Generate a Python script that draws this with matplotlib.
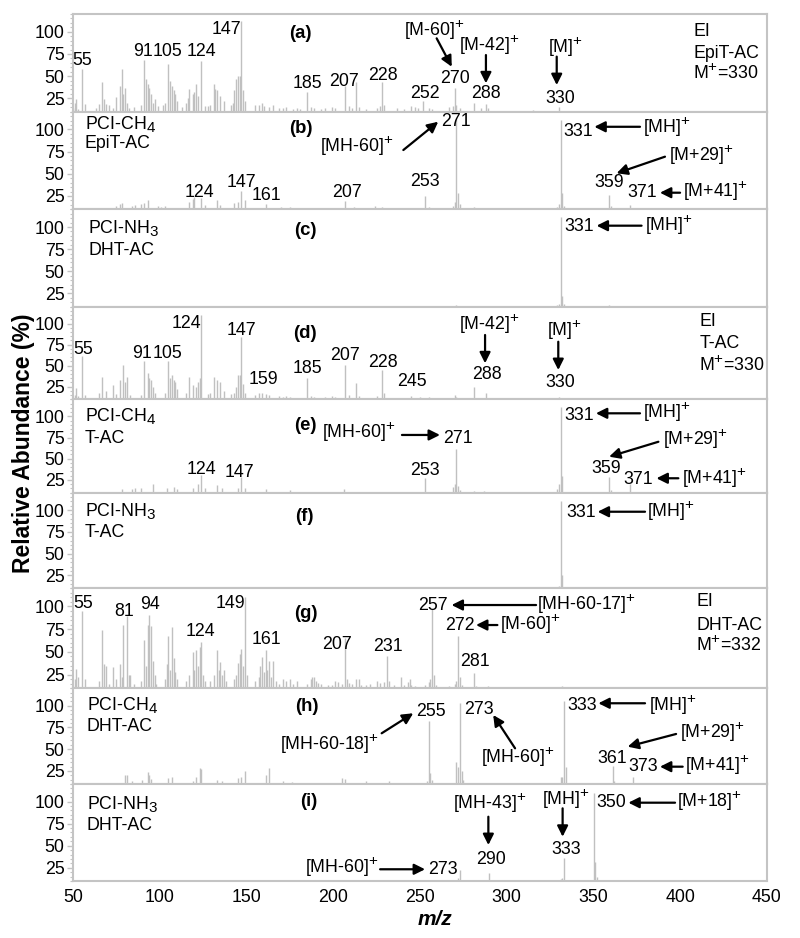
import matplotlib
matplotlib.use("Agg")
import matplotlib.pyplot as plt
from matplotlib.ticker import MultipleLocator
import matplotlib._mathtext as _mt

_mt.SHRINK_FACTOR = 0.85

plt.rcParams['font.family'] = ['Liberation Sans', 'DejaVu Sans']
plt.rcParams['mathtext.fontset'] = 'custom'
plt.rcParams['mathtext.rm'] = 'Liberation Sans'
plt.rcParams['mathtext.it'] = 'Liberation Sans:italic'
plt.rcParams['mathtext.bf'] = 'Liberation Sans:bold'

# ---------------- data: (m/z, relative abundance as displayed) ----------------
spec_a = [(50,14),(51,20),(52,24),(53,13),(55,58),(57,19),(63,14),(65,19),(67,43),(68,24),(69,19),
          (71,17),(73,14),(75,26),(77,39),(78,58),(79,30),(80,37),(81,20),(82,14),(85,15),(89,17),
          (91,68),(92,47),(93,41),(94,37),(95,30),(96,20),(97,24),(99,16),(102,18),(103,20),(105,64),
          (106,45),(107,39),(108,34),(109,30),(110,22),(113,15),(115,20),(116,25),(117,35),(119,30),
          (120,32),(121,41),(122,28),(124,67),(126,16),(128,16),(129,18),(131,41),(132,35),(133,34),
          (135,28),(137,22),(141,18),(142,20),(143,34),(144,47),(145,50),(146,50),(147,112),(148,34),
          (149,22),(155,17),(157,18),(159,20),(160,16),(163,15),(165,17),(169,14),(171,14),(173,15),
          (177,13),(179,14),(181,13),(185,32),(187,15),(189,14),(193,13),(195,14),(199,15),(201,14),
          (207,39),(209,16),(211,14),(213,43),(215,15),(219,13),(225,14),(227,16),(228,43),(229,17),
          (237,14),(241,13),(245,16),(247,15),(249,14),(252,22),(255,14),(257,13),(267,15),(269,16),
          (270,37),(271,18),(273,14),(281,20),(285,14),(288,19),(289,14),(315,12),(330,15)]

spec_b = [(68,12),(75,14),(77,16),(78,17),(84,14),(86,15),(89,16),(91,17),(93,20),(99,14),(101,13),
          (103,14),(117,18),(119,22),(120,24),(124,23),(126,15),(133,20),(135,15),(143,17),(145,18),
          (147,31),(149,20),(161,16),(170,13),(175,13),(207,19),(212,13),(224,14),(228,13),(253,25),
          (255,13),(269,14),(270,18),(271,113),(272,28),(273,16),(281,13),(289,12),(313,11),(329,13),
          (330,16),(331,111),(332,28),(333,14),(359,26),(360,14),(371,15)]

spec_c = [(271,11.5),(313,11),(329,12),(330,13),(331,111),(332,22),(333,13),(359,11.5)]

spec_d = [(51,15),(52,23),(53,14),(55,61),(57,15),(65,17),(67,37),(69,20),(73,27),(75,16),(77,33),
          (79,51),(80,30),(81,37),(83,15),(89,15),(91,55),(93,41),(94,35),(95,33),(96,25),(97,18),
          (103,17),(105,55),(106,35),(107,39),(108,33),(109,30),(110,22),(115,18),(117,37),(119,27),
          (121,25),(122,31),(123,35),(124,110),(128,16),(129,18),(131,37),(133,33),(135,30),(137,20),
          (141,16),(143,18),(144,25),(145,39),(146,39),(147,84),(148,28),(149,18),(155,15),(157,18),
          (159,17),(161,16),(163,15),(169,14),(171,13),(173,14),(175,13),(185,35),(187,14),(189,13),
          (195,13),(199,14),(201,13),(207,51),(209,15),(213,29),(215,14),(225,14),(228,45),(229,18),
          (245,14),(250,13),(255,13),(270,15),(271,13),(281,25),(288,17),(330,13)]

spec_e = [(78,14),(84,14),(86,15),(89,16),(96,20),(104,15),(108,17),(110,14),(119,15),(122,20),
          (124,31),(126,15),(133,19),(136,15),(145,16),(147,29),(149,15),(161,14),(175,13),(206,14),
          (253,27),(269,17),(270,20),(271,62),(272,18),(273,13),(281,12),(287,12),(329,14),(330,20),
          (331,111),(332,30),(359,29),(360,13),(371,20)]

spec_f = [(271,12),(330,13),(331,111),(332,25),(359,11)]

spec_g = [(51,20),(52,31),(53,22),(55,95),(57,20),(65,18),(67,74),(68,37),(69,35),(71,15),(73,33),
          (75,20),(77,37),(78,22),(79,80),(81,89),(82,25),(83,25),(85,15),(89,18),(91,63),(92,35),
          (93,80),(94,91),(95,79),(96,40),(97,25),(98,15),(103,20),(104,37),(105,68),(106,30),
          (107,77),(108,43),(109,28),(110,20),(115,18),(117,25),(119,50),(120,30),(121,52),(122,35),
          (123,55),(124,61),(125,25),(126,18),(129,18),(131,25),(133,52),(134,30),(135,39),(136,25),
          (137,30),(138,18),(143,20),(144,25),(145,38),(146,48),(147,53),(148,35),(149,110),(150,25),
          (155,18),(157,22),(158,35),(159,44),(160,28),(161,52),(162,30),(163,40),(164,22),(165,40),
          (167,18),(169,15),(171,20),(173,18),(175,20),(177,15),(179,18),(185,15),(187,20),(188,22),
          (189,22),(190,18),(191,16),(193,15),(197,14),(199,14),(201,18),(203,17),(205,15),(207,65),
          (208,20),(209,16),(211,15),(213,20),(215,20),(216,14),(219,14),(221,15),(225,18),(227,16),
          (229,17),(231,46),(232,18),(235,14),(239,22),(241,14),(243,17),(244,20),(245,14),(247,13),
          (253,14),(255,17),(256,20),(257,97),(258,25),(259,14),(267,13),(270,15),(271,18),(272,68),
          (273,22),(274,14),(281,27),(282,13),(289,12),(317,11),(332,12),(355,11)]

spec_h = [(80,20),(81,20),(84,14),(90,15),(93,24),(94,20),(95,16),(105,17),(107,18),(119,14),
          (121,18),(123,28),(124,27),(133,15),(136,14),(145,17),(147,18),(149,25),(161,20),(163,28),
          (171,13),(176,12),(205,17),(207,16),(219,14),(232,13),(254,14),(255,82),(256,23),(257,15),
          (271,35),(272,30),(273,103),(274,25),(275,15),(331,18),(332,18),(333,105),(334,30),(361,31),
          (362,13),(373,18)]

spec_i = [(272,13),(273,23),(290,19),(331,12),(332,13),(333,36),(350,110),(351,32),(352,14)]

spectra = [spec_a, spec_b, spec_c, spec_d, spec_e, spec_f, spec_g, spec_h, spec_i]
panel_tags = ['(a)', '(b)', '(c)', '(d)', '(e)', '(f)', '(g)', '(h)', '(i)']
y_ticks = [25, 50, 75, 100]
x_ticks = [50, 100, 150, 200, 250, 300, 350, 400, 450]

# ---------------- layout / annotations (positions in data coords) ----------------
W, H = 800, 938
bounds = [(14, 111.7), (111.7, 209.3), (209.3, 306.7), (306.7, 399.3), (399.3, 492.7),
          (492.7, 588.3), (588.3, 688.3), (688.3, 784), (784, 881)]
tag_pos = [(181, 98.6), (181.5, 101.3), (183.7, 96.6), (183.7, 88.4), (183.7, 89.7),
           (183.3, 92.4), (184.2, 92.8), (184.6, 98.9), (185.6, 99.9)]

texts = [
    [('55', 55.4, 68), ('91', 90.3, 77.5), ('105', 104.7, 77.5), ('124', 124.3, 77.5),
     ('147', 138.4, 102), ('185', 185, 42), ('207', 206.1, 43.8), ('228', 228.9, 51.3),
     ('252', 252.7, 30.7), ('270', 270.3, 47.6), ('288', 288.2, 30.7), ('330', 331.1, 25.1),
     ('[M-60]$^{+}$', 258, 102), ('[M-42]$^{+}$', 289.8, 85), ('[M]$^{+}$', 333.6, 83),
     ('EI', 407.5, 100.1, 'left'), ('EpiT-AC', 407.5, 75.8, 'left'), ('M$^{+}$=330', 407.5, 53.3, 'left')],
    [('PCI-CH$_4$', 56.9, 106.5, 'left'), ('EpiT-AC', 56.9, 83.6, 'left'),
     ('[MH-60]$^{+}$', 213.7, 82), ('271', 270.9, 108.7), ('331', 341, 98.2),
     ('[MH]$^{+}$', 378.3, 103, 'left'), ('[M+29]$^{+}$', 393.7, 71, 'left'), ('359', 359.1, 40),
     ('371', 378, 28.7), ('[M+41]$^{+}$', 401.8, 30.5, 'left'), ('124', 122.7, 28.7),
     ('147', 147.3, 40), ('161', 161.4, 25), ('207', 207.7, 28.7), ('253', 252.9, 41)],
    [('PCI-NH$_3$', 58.8, 99.3, 'left'), ('DHT-AC', 58.8, 74, 'left'), ('331', 341.7, 100.3),
     ('[MH]$^{+}$', 379.7, 102, 'left')],
    [('55', 55.8, 68.6), ('91', 89.6, 64.6), ('105', 104.5, 64.6), ('124', 115.3, 100.3),
     ('147', 147, 92.3), ('159', 159.7, 33.8), ('185', 185.4, 46.8), ('207', 206.8, 62.6),
     ('228', 228.7, 53.5), ('245', 245.4, 31), ('288', 288.4, 38.9), ('330', 330.7, 29.7),
     ('[M-42]$^{+}$', 289.8, 100), ('[M]$^{+}$', 333, 92),
     ('EI', 411, 102.2, 'left'), ('T-AC', 411, 76.5, 'left'), ('M$^{+}$=330', 411, 50.8, 'left')],
    [('PCI-CH$_4$', 56.9, 100.5, 'left'), ('T-AC', 56.9, 74, 'left'),
     ('[MH-60]$^{+}$', 193.3, 81.5, 'left'), ('271', 271.9, 74), ('253', 252.9, 36.7),
     ('331', 342, 101.5), ('[MH]$^{+}$', 378.7, 105, 'left'), ('[M+29]$^{+}$', 390.2, 73.5, 'left'),
     ('359', 357.5, 38.7), ('371', 375.8, 25.8), ('[M+41]$^{+}$', 400.8, 27.5, 'left'),
     ('124', 124.2, 37.5), ('147', 146, 33.5)],
    [('PCI-NH$_3$', 56.9, 99.1, 'left'), ('T-AC', 56.9, 74, 'left'), ('331', 342.7, 97),
     ('[MH]$^{+}$', 380.6, 99.6, 'left')],
    [('55', 55.9, 103.8), ('81', 79.5, 94.7), ('94', 94.4, 102), ('149', 140.5, 103.8),
     ('124', 123.4, 72.7), ('161', 161.4, 63.5), ('207', 202.4, 58), ('231', 231.3, 56.2),
     ('257', 257.7, 101.6), ('[MH-60-17]$^{+}$', 317.2, 103, 'left'), ('272', 272.8, 79.6),
     ('[M-60]$^{+}$', 296.1, 81, 'left'), ('281', 281.7, 39.3),
     ('EI', 409.1, 105.3, 'left'), ('DHT-AC', 409.1, 79.6, 'left'), ('M$^{+}$=332', 409.1, 57.6, 'left')],
    [('PCI-CH$_4$', 57.9, 101, 'left'), ('DHT-AC', 57.9, 75.9, 'left'),
     ('[MH-60-18]$^{+}$', 198.1, 56.5), ('255', 256.3, 93.1), ('273', 284.1, 95.9),
     ('[MH-60]$^{+}$', 306.5, 41), ('333', 343.7, 99.7), ('[MH]$^{+}$', 382.1, 101.2, 'left'),
     ('[M+29]$^{+}$', 400, 70, 'left'), ('361', 361, 39.5), ('373', 378.5, 29.9),
     ('[M+41]$^{+}$', 402.7, 31.5, 'left')],
    [('PCI-NH$_3$', 57.9, 97.1, 'left'), ('DHT-AC', 57.9, 73.5, 'left'),
     ('[MH-60]$^{+}$', 183.7, 26, 'left'), ('273', 263.4, 22.5), ('[MH-43]$^{+}$', 290.3, 99),
     ('290', 291, 34.6), ('[MH]$^{+}$', 334.1, 103.5), ('333', 334.5, 45.2), ('350', 360.5, 98.8),
     ('[M+18]$^{+}$', 397.9, 100.5, 'left')],
]

arrows = [
    [((259.6, 92.6), (268.3, 60.6)), ((288, 73.8), (288, 42)), ((328.8, 72), (328.8, 40))],
    [((240.4, 76.8), (260.5, 108.7)), ((376.8, 103), (350.5, 103)),
     ((391.2, 69.3), (363.3, 50.6)), ((399.9, 28.7), (388.3, 28.7))],
    [((377.7, 101.5), (351.8, 101.5))],
    [((287.5, 86.4), (287.5, 52.8)), ((329.7, 78.4), (329.7, 44.8))],
    [((239.6, 78), (261.5, 78)), ((376.8, 103.5), (351.4, 103.5)),
     ((387.4, 70), (359, 52.4)), ((398.9, 27), (386.3, 27))],
    [((379.7, 98.1), (352.4, 98.1))],
    [((316.9, 101.6), (268.2, 101.6)), ((294.6, 79.6), (282.3, 79.6))],
    [((227.9, 68.3), (246.1, 91.3)), ((304.8, 51), (292.2, 89.3)), ((379.7, 102.8), (352.8, 102.8)),
     ((397.6, 67.5), (369.7, 52.9)), ((401.4, 29.9), (388.3, 29.9))],
    [((227, 23.3), (252.9, 23.3)), ((289.4, 82.9), (289.4, 50.8)),
     ((332.2, 92.4), (332.2, 60.2)), ((397, 98.8), (370.1, 98.8))],
]

PEAK = '#c0c0c0'
FRAME = '#c4c4c4'
FS = 12.8

fig = plt.figure(figsize=(W / 100, H / 100), dpi=100)
axes = []
for k, (top, bot) in enumerate(bounds):
    ax = fig.add_axes([73 / W, 1 - bot / H, 694 / W, (bot - top) / H])
    mz, inten = zip(*spectra[k])
    ax.vlines(mz, 0, inten, color=PEAK, lw=1.0)
    ax.set_xlim(50, 450)
    ax.set_ylim(10, 120)
    ax.set_yticks(y_ticks)
    ax.yaxis.set_minor_locator(MultipleLocator(5))
    ax.tick_params(axis='y', which='major', direction='out', length=4, width=1,
                   color=FRAME, labelsize=FS, pad=2)
    ax.tick_params(axis='y', which='minor', direction='out', length=2, width=0.8, color=FRAME)
    ax.set_xticks(x_ticks)
    if k < 8:
        ax.tick_params(axis='x', which='both', length=0, labelbottom=False)
    else:
        ax.tick_params(axis='x', which='both', length=0, labelsize=FS, pad=6)
    for s in ax.spines.values():
        s.set_color(FRAME)
        s.set_linewidth(1.5)
    tx, ty = tag_pos[k]
    ax.text(tx, ty, panel_tags[k], ha='center', va='center', fontsize=FS + 0.5,
            fontweight='bold')
    for item in texts[k]:
        s, x, y = item[:3]
        ha = item[3] if len(item) > 3 else 'center'
        ax.text(x, y, s, ha=ha, va='center', fontsize=FS)
    for (tail, head) in arrows[k]:
        ax.annotate('', xy=head, xytext=tail,
                    arrowprops=dict(arrowstyle='-|>', color='black', lw=1.6,
                                    mutation_scale=16, shrinkA=0, shrinkB=0))
    axes.append(ax)

axes[-1].set_xlabel('m/z', fontsize=15, fontweight='bold', style='italic')
axes[-1].xaxis.set_label_coords((435 - 73) / 694, -0.30)

fig.text(24 / W, 1 - 443 / H, 'Relative Abundance (%)', rotation=90, ha='center',
         va='center', fontsize=16.5, fontweight='bold')

fig.savefig('out.png', dpi=100, facecolor='white')
